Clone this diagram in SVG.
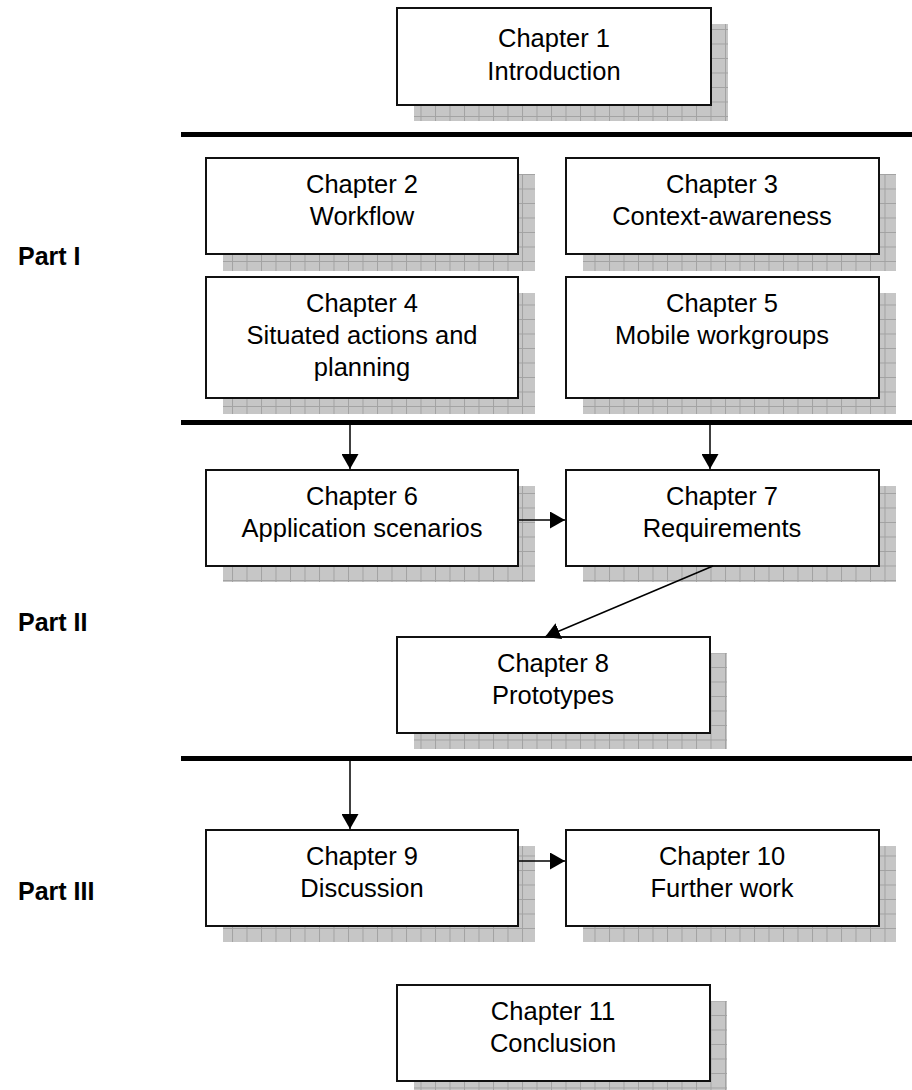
<svg xmlns="http://www.w3.org/2000/svg" width="912" height="1090" viewBox="0 0 912 1090">
  <style>
    .box { fill: #ffffff; stroke: #111111; stroke-width: 2; }
    .shadow { fill: url(#grid); }
    .label { font-family: "Liberation Sans", Arial, sans-serif; font-size: 25.5px; fill: #000000; text-anchor: middle; }
    .part { font-family: "Liberation Sans", Arial, sans-serif; font-size: 25px; font-weight: bold; fill: #000000; }
    .divider { stroke: #000000; stroke-width: 5; }
    .conn { stroke: #000000; stroke-width: 1.5; fill: none; marker-end: url(#head); }
  </style>
  <defs>
    <pattern id="grid" patternUnits="userSpaceOnUse" x="0" y="0" width="14.5" height="14.5">
      <rect width="14.5" height="14.5" fill="#c6c6c6"/>
      <path d="M0 0.5 H14.5 M0.5 0 V14.5" stroke="#a2a2a2" stroke-width="1"/>
    </pattern>
    <marker id="head" markerUnits="userSpaceOnUse" markerWidth="16" markerHeight="17" refX="15" refY="8.5" orient="auto">
      <path d="M0 0 L15 8.5 L0 17 Z" fill="#000000"/>
    </marker>
  </defs>

  <!-- section dividers -->
  <g id="dividers">
    <line class="divider" x1="181" y1="134.5" x2="912" y2="134.5"/>
    <line class="divider" x1="181" y1="422.5" x2="912" y2="422.5"/>
    <line class="divider" x1="181" y1="758.5" x2="912" y2="758.5"/>
  </g>

  <!-- part labels -->
  <g id="parts">
    <text class="part" x="18" y="265">Part I</text>
    <text class="part" x="18" y="631">Part II</text>
    <text class="part" x="18" y="900">Part III</text>
  </g>

  <g id="ch1">
    <rect class="shadow" x="414" y="24" width="314" height="97"/>
    <rect class="box" x="397" y="8" width="314" height="97"/>
    <text class="label" x="554" y="47">Chapter 1</text>
    <text class="label" x="554" y="80">Introduction</text>
  </g>

  <g id="ch2">
    <rect class="shadow" x="223" y="174" width="312" height="97"/>
    <rect class="box" x="206" y="158" width="312" height="96"/>
    <text class="label" x="362" y="193">Chapter 2</text>
    <text class="label" x="362" y="225">Workflow</text>
  </g>

  <g id="ch3">
    <rect class="shadow" x="583" y="174" width="313" height="97"/>
    <rect class="box" x="566" y="158" width="313" height="96"/>
    <text class="label" x="722" y="193">Chapter 3</text>
    <text class="label" x="722" y="225">Context-awareness</text>
  </g>

  <g id="ch4">
    <rect class="shadow" x="223" y="293" width="312" height="121"/>
    <rect class="box" x="206" y="277" width="312" height="121"/>
    <text class="label" x="362" y="312">Chapter 4</text>
    <text class="label" x="362" y="344">Situated actions and</text>
    <text class="label" x="362" y="376">planning</text>
  </g>

  <g id="ch5">
    <rect class="shadow" x="583" y="293" width="313" height="121"/>
    <rect class="box" x="566" y="277" width="313" height="121"/>
    <text class="label" x="722" y="312">Chapter 5</text>
    <text class="label" x="722" y="344">Mobile workgroups</text>
  </g>

  <g id="ch6">
    <rect class="shadow" x="223" y="486" width="312" height="96"/>
    <rect class="box" x="206" y="470" width="312" height="96"/>
    <text class="label" x="362" y="505">Chapter 6</text>
    <text class="label" x="362" y="537">Application scenarios</text>
  </g>

  <g id="ch7">
    <rect class="shadow" x="583" y="486" width="313" height="96"/>
    <rect class="box" x="566" y="470" width="313" height="96"/>
    <text class="label" x="722" y="505">Chapter 7</text>
    <text class="label" x="722" y="537">Requirements</text>
  </g>

  <g id="ch8">
    <rect class="shadow" x="414" y="653" width="313" height="96"/>
    <rect class="box" x="397" y="637" width="313" height="96"/>
    <text class="label" x="553" y="672">Chapter 8</text>
    <text class="label" x="553" y="704">Prototypes</text>
  </g>

  <g id="ch9">
    <rect class="shadow" x="223" y="846" width="312" height="96"/>
    <rect class="box" x="206" y="830" width="312" height="96"/>
    <text class="label" x="362" y="865">Chapter 9</text>
    <text class="label" x="362" y="897">Discussion</text>
  </g>

  <g id="ch10">
    <rect class="shadow" x="583" y="846" width="313" height="96"/>
    <rect class="box" x="566" y="830" width="313" height="96"/>
    <text class="label" x="722" y="865">Chapter 10</text>
    <text class="label" x="722" y="897">Further work</text>
  </g>

  <g id="ch11">
    <rect class="shadow" x="414" y="1001" width="313" height="96"/>
    <rect class="box" x="397" y="985" width="313" height="96"/>
    <text class="label" x="553" y="1020">Chapter 11</text>
    <text class="label" x="553" y="1052">Conclusion</text>
  </g>

  <!-- connectors -->
  <g id="connectors">
    <line class="conn" x1="350" y1="425" x2="350" y2="469"/>
    <line class="conn" x1="710" y1="425" x2="710" y2="469"/>
    <line class="conn" x1="519" y1="520" x2="565" y2="520"/>
    <line class="conn" x1="713" y1="566" x2="545" y2="637"/>
    <line class="conn" x1="350" y1="761" x2="350" y2="829"/>
    <line class="conn" x1="519" y1="861" x2="565" y2="861"/>
  </g>
</svg>
